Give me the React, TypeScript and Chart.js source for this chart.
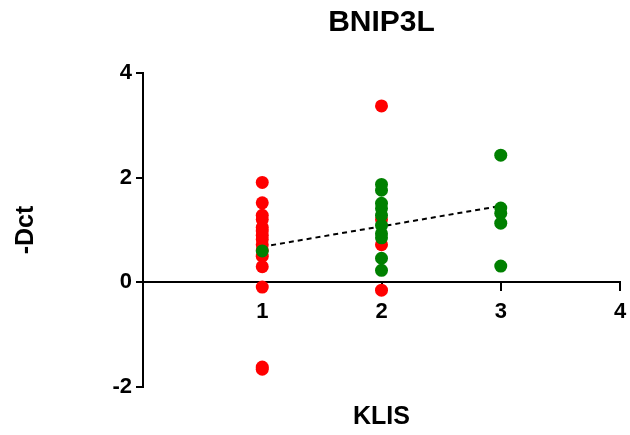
import React, { useEffect, useRef } from "react";
import { Chart, registerables } from "chart.js";

Chart.register(...registerables);

const chartTitle = "BNIP3L";
const xAxisTitle = "KLIS";
const yAxisTitle = "-Dct";

const xTicks = [1, 2, 3, 4];
const yTicks = [-2, 0, 2, 4];

const redX = [1, 1, 1, 1, 1, 1, 1, 1, 1, 1, 1, 1, 1, 1, 1, 2, 2, 2, 2];
const redY = [1.91, 1.52, 1.28, 1.2, 1.05, 0.98, 0.9, 0.82, 0.72, 0.62, 0.5, 0.3, -0.09, -1.62, -1.66, 3.37, 1.2, 0.72, -0.15];

const greenX = [1, 2, 2, 2, 2, 2, 2, 2, 2, 2, 2, 3, 3, 3, 3, 3];
const greenY = [0.6, 1.87, 1.76, 1.51, 1.41, 1.28, 1.09, 0.93, 0.85, 0.46, 0.23, 2.43, 1.42, 1.32, 1.13, 0.31];

const fitX = [1, 3];
const fitY = [0.68, 1.46];

const toPoints = (xs: number[], ys: number[]) => xs.map((x, i) => ({ x, y: ys[i] }));

export default function App() {
  const ref = useRef<HTMLCanvasElement | null>(null);

  useEffect(() => {
    document.body.style.margin = "0";
    if (!ref.current) return;
    const font = "'Liberation Sans', Arial, Helvetica, sans-serif";
    const chart = new Chart(ref.current, {
      type: "scatter",
      data: {
        datasets: [
          {
            label: "green",
            data: toPoints(greenX, greenY),
            backgroundColor: "#008000",
            borderColor: "#008000",
            borderWidth: 0,
            pointRadius: 6.5,
          },
          {
            label: "red",
            data: toPoints(redX, redY),
            backgroundColor: "#FF0000",
            borderColor: "#FF0000",
            borderWidth: 0,
            pointRadius: 6.5,
          },
          {
            label: "fit",
            data: toPoints(fitX, fitY),
            showLine: true,
            borderColor: "#000000",
            borderWidth: 2,
            borderDash: [5, 4],
            pointRadius: 0,
            fill: false,
          },
        ],
      },
      options: {
        responsive: false,
        animation: false,
        devicePixelRatio: 1,
        layout: { padding: { left: 0, right: 10, top: 0, bottom: 0 } },
        plugins: {
          legend: { display: false },
          tooltip: { enabled: false },
          title: {
            display: true,
            text: chartTitle,
            color: "#000",
            fullSize: false,
            font: { family: font, size: 30, weight: "bold" },
            padding: { top: 5, bottom: 32 },
          },
          subtitle: {
            display: true,
            text: xAxisTitle,
            position: "bottom",
            color: "#000",
            fullSize: false,
            font: { family: font, size: 25, weight: "bold" },
            padding: { top: 15.5, bottom: 2.5 },
          },
        },
        scales: {
          x: {
            type: "linear",
            position: { y: 0 } as any,
            min: 0,
            max: 4,
            afterBuildTicks: (scale: any) => {
              scale.ticks = xTicks.map((v) => ({ value: v }));
            },
            afterFit: (scale: any) => {
              scale.paddingLeft = 0;
              scale.paddingRight = 0;
            },
            ticks: {
              color: "#000",
              font: { family: font, size: 22, weight: "bold" },
              padding: 8,
              maxRotation: 0,
            },
            grid: {
              display: true,
              drawOnChartArea: false,
              drawTicks: true,
              tickLength: 8,
              lineWidth: 2,
              color: "#000",
            },
            border: { display: true, color: "#000", width: 2 },
          },
          y: {
            type: "linear",
            position: "left",
            min: -2,
            max: 4,
            afterBuildTicks: (scale: any) => {
              scale.ticks = yTicks.map((v) => ({ value: v }));
            },
            afterFit: (scale: any) => {
              scale.width = 143;
              scale.paddingTop = 0;
              scale.paddingBottom = 0;
            },
            ticks: {
              color: "#000",
              font: { family: font, size: 22, weight: "bold" },
              padding: 4,
            },
            grid: {
              display: true,
              drawOnChartArea: false,
              drawTicks: true,
              tickLength: 7,
              lineWidth: 2,
              color: "#000",
            },
            border: { display: true, color: "#000", width: 2 },
            title: {
              display: true,
              text: yAxisTitle,
              color: "#000",
              font: { family: font, size: 25, weight: "bold" },
              padding: { top: 11, bottom: 0 },
            },
          },
        },
      },
    });
    return () => chart.destroy();
  }, []);

  return (
    <div style={{ width: 630, height: 435 }}>
      <canvas ref={ref} width={630} height={435} />
    </div>
  );
}
